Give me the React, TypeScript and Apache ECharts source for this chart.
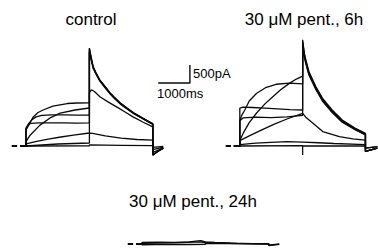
import React, { useEffect, useRef } from "react";
import * as echarts from "echarts";

// ---------- data (time in ms, current in pA) ----------
const preHold: number[][] = [[-190, 0], [0, 0]];
const zeroMarker: number[][] = [[-450, 0], [-280, 0]];
const scaleBar: number[][] = [[4170, 1750], [5170, 1750], [5170, 2250]];

// control: depolarising steps
const ctlStep1 = [[0, 0], [0, 480], [60, 580], [150, 630], [400, 645], [800, 640], [1200, 645], [1600, 635], [2000, 640]];
const ctlStep2 = [[0, 0], [0, 500], [100, 640], [200, 740], [320, 810], [500, 850], [800, 862], [1200, 865], [1600, 858], [2000, 861]];
const ctlStep3 = [[0, 0], [0, 450], [100, 600], [220, 800], [380, 930], [540, 1000], [850, 1110], [1300, 1180], [1600, 1195], [2000, 1200]];
const ctlStep4 = [[0, 0], [0, 120], [130, 300], [440, 580], [760, 780], [1080, 915], [1550, 1000], [2000, 1056]];
const ctlStep5 = [[0, 0], [0, 60], [300, 120], [700, 190], [1100, 250], [1500, 300], [2000, 361]];
const ctlStep6 = [[0, 0], [0, 15], [1000, 55], [2000, 83]];
const ctlStep7 = [[0, 0], [2000, 5]];
// control: tails
const ctlTail1 = [[2000, 2650], [2060, 2400], [2120, 2170], [2200, 2010], [2330, 1800], [2500, 1610], [2650, 1450], [2800, 1310], [2970, 1170], [3200, 1020], [3400, 900], [3700, 750], [4000, 600]];
const ctlTail2 = [[2000, 2700], [2060, 2430], [2120, 2190], [2200, 2040], [2330, 1820], [2500, 1630], [2650, 1460], [2800, 1320], [2970, 1180], [3200, 1030], [3400, 905], [3700, 755], [4000, 605]];
const ctlTail3 = [[2000, 2720], [2060, 2450], [2120, 2200], [2200, 2050], [2330, 1830], [2500, 1640], [2650, 1470], [2800, 1330], [2970, 1190], [3200, 1040], [3400, 910], [3700, 760], [4000, 610]];
const ctlTail4 = [[2000, 2600], [2060, 2380], [2120, 2160], [2200, 2020], [2330, 1830], [2500, 1650], [2650, 1480], [2800, 1345], [2970, 1200], [3200, 1050], [3400, 925], [3700, 770], [4000, 620]];
const ctlTail5 = [[2000, 1480], [2060, 1560], [2150, 1520], [2330, 1370], [2600, 1220], [2870, 1080], [3100, 960], [3375, 810], [3700, 660], [4000, 530]];
const ctlTail6 = [[2000, 360], [2100, 350], [2500, 280], [3000, 220], [3500, 180], [4000, 165]];
const ctlTail7 = [[2000, 0], [2000, 30], [3000, 20], [4000, 10]];
const notchBig = [[4000, -250], [4150, -150], [4330, -60]];
const notchMid = [[4000, -180], [4330, -50]];
const notchSmall = [[4000, -100], [4330, -30]];
const notchTiny = [[4000, -40], [4330, -10]];

// 30 uM pentamidine, 6 h
const h6Step1 = [[0, 0], [0, 700], [60, 850], [158, 1000], [300, 1250], [527, 1460], [842, 1630], [1158, 1715], [1577, 1745], [2000, 1725]];
const h6Step2 = [[0, 0], [0, 150], [104, 350], [300, 650], [527, 910], [800, 1170], [1050, 1370], [1300, 1560], [1577, 1740], [1800, 1860], [2000, 1940]];
const h6Step3 = [[0, 0], [0, 1050], [100, 1080], [400, 1070], [800, 1050], [1200, 1030], [1600, 1010], [2000, 1000]];
const h6Step4 = [[0, 0], [0, 700], [100, 780], [500, 800], [1000, 790], [1500, 810], [2000, 850]];
const h6Step5 = [[0, 0], [0, 150], [300, 280], [700, 450], [1100, 610], [1500, 750], [2000, 908]];
const h6Step6 = [[0, 0], [0, 40], [500, 80], [1000, 100], [1500, 120], [2000, 110]];
const h6Step7 = [[0, 0], [2000, 10]];
const h6Tail1 = [[2000, 2850], [2050, 2520], [2100, 2330], [2200, 2000], [2420, 1590], [2630, 1270], [2940, 950], [3260, 680], [3680, 460], [4000, 320]];
const h6Tail2 = [[2000, 2950], [2050, 2600], [2100, 2400], [2200, 2070], [2420, 1650], [2630, 1330], [2940, 1000], [3260, 720], [3680, 490], [4000, 350]];
const h6Tail3 = [[2000, 2900], [2050, 2560], [2100, 2360], [2200, 2030], [2420, 1620], [2630, 1300], [2940, 975], [3260, 700], [3680, 475], [4000, 335]];
const h6Tail4 = [[2000, 2800], [2050, 2480], [2100, 2290], [2200, 1970], [2420, 1570], [2630, 1250], [2940, 930], [3260, 660], [3680, 445], [4000, 310]];
const h6Tail5 = [[2000, 908], [2100, 800], [2330, 630], [2640, 400], [3170, 260], [3600, 200], [4000, 165]];
const h6Tail6 = [[2000, 110], [2500, 90], [3000, 70], [4000, 40]];
const h6Tail7 = [[2000, 10], [2000, -250], [2000, 0], [4000, 0]];
const h6Notch = [[4000, -150], [4380, -60]];
const h6NotchSmall = [[4000, -60], [4380, -20]];

// 30 uM pentamidine, 24 h
const h24Trace1 = [[0, 0], [0, 40], [500, 50], [1000, 45], [1500, 55], [1700, 80], [1850, 95], [1950, 70], [2000, 60], [2300, 40], [2800, 25], [3500, 10], [4000, 5], [4000, -40], [4330, -10]];
const h24Trace2 = [[0, 0], [0, -20], [800, -10], [1500, -15], [2000, -10], [2000, 20], [3000, 10], [4000, 0]];
const h24Trace3 = [[0, 0], [0, 20], [1000, 30], [1800, 60], [2000, 40], [2000, 35], [3000, 15], [4000, 5], [4000, -30], [4330, 0]];

const titles = ["control", "30 \u03bcM pent., 6h", "30 \u03bcM pent., 24h"];
const scaleLabels = ["500pA", "1000ms"];

export default function App() {
  const ref = useRef<HTMLDivElement>(null);
  useEffect(() => {
    const chart = echarts.init(ref.current!, null, { renderer: "svg" });
    const line = (g: number, data: number[][], width = 1.3) => ({
      type: "line",
      xAxisIndex: g,
      yAxisIndex: g,
      data,
      symbol: "none",
      silent: true,
      lineStyle: { color: "#0a0a0a", width },
      z: 2,
    });
    const ctl = [
      [...preHold, ...ctlStep1, ...ctlTail1, ...notchBig],
      [...preHold, ...ctlStep2, ...ctlTail2, ...notchBig],
      [...preHold, ...ctlStep3, ...ctlTail3, ...notchBig],
      [...preHold, ...ctlStep4, ...ctlTail4, ...notchBig],
      [...preHold, ...ctlStep5, ...ctlTail5, ...notchMid],
      [...preHold, ...ctlStep6, ...ctlTail6, ...notchSmall],
      [...preHold, ...ctlStep7, ...ctlTail7, ...notchTiny],
    ];
    const h6 = [
      [...preHold, ...h6Step1, ...h6Tail1, ...h6Notch],
      [...preHold, ...h6Step2, ...h6Tail2, ...h6Notch],
      [...preHold, ...h6Step3, ...h6Tail3, ...h6Notch],
      [...preHold, ...h6Step4, ...h6Tail4, ...h6Notch],
      [...preHold, ...h6Step5, ...h6Tail5, ...h6NotchSmall],
      [...preHold, ...h6Step6, ...h6Tail6, ...h6NotchSmall],
      [...preHold, ...h6Step7, ...h6Tail7],
    ];
    const h24 = [
      [...preHold, ...h24Trace1],
      [...preHold, ...h24Trace2],
      [...preHold, ...h24Trace3],
    ];
    const series: any[] = [];
    ctl.forEach((d) => series.push(line(0, d)));
    h6.forEach((d) => series.push(line(1, d)));
    h24.forEach((d) => series.push(line(2, d, 1.4)));
    series.push(line(0, zeroMarker, 2));
    series.push(line(1, zeroMarker, 2));
    series.push(line(2, zeroMarker, 2));
    series.push(line(0, scaleBar, 1.4));

    const k = 0.0317;
    const xAx = (g: number, min: number, max: number) => ({ type: "value", gridIndex: g, min, max, show: false });
    const yAx = (g: number, min: number, max: number) => ({ type: "value", gridIndex: g, min, max, show: false });
    const txt = (text: string, x: number, y: number, size: number, align: string) => ({
      type: "text",
      x,
      y,
      style: { text, fill: "#000", font: `${size}px "Liberation Sans", Arial, sans-serif`, textAlign: align, textVerticalAlign: "middle" },
    });

    chart.setOption({
      animation: false,
      backgroundColor: "#fff",
      grid: [
        { left: 26 - 600 * k, top: 20, width: 6000 * k, height: 144 },
        { left: 240 - 600 * k, top: 20, width: 5000 * k, height: 144 },
        { left: 142 - 600 * k, top: 118, width: 5000 * k, height: 129.6 },
      ],
      xAxis: [xAx(0, -600, 5400), xAx(1, -600, 4400), xAx(2, -600, 4400)],
      yAxis: [yAx(0, -500, 3500), yAx(1, -500, 3500), yAx(2, -100, 3500)],
      series,
      graphic: [
        txt(titles[0], 91, 19, 17, "center"),
        txt(titles[1], 304, 19, 17, "center"),
        txt(titles[2], 193, 201, 17, "center"),
        txt(scaleLabels[0], 193, 73.5, 13, "left"),
        txt(scaleLabels[1], 157, 93.5, 13, "left"),
      ],
    });
    return () => chart.dispose();
  }, []);
  return <div ref={ref} style={{ position: "fixed", left: 0, top: 0, width: 378, height: 248, background: "#fff" }} />;
}
